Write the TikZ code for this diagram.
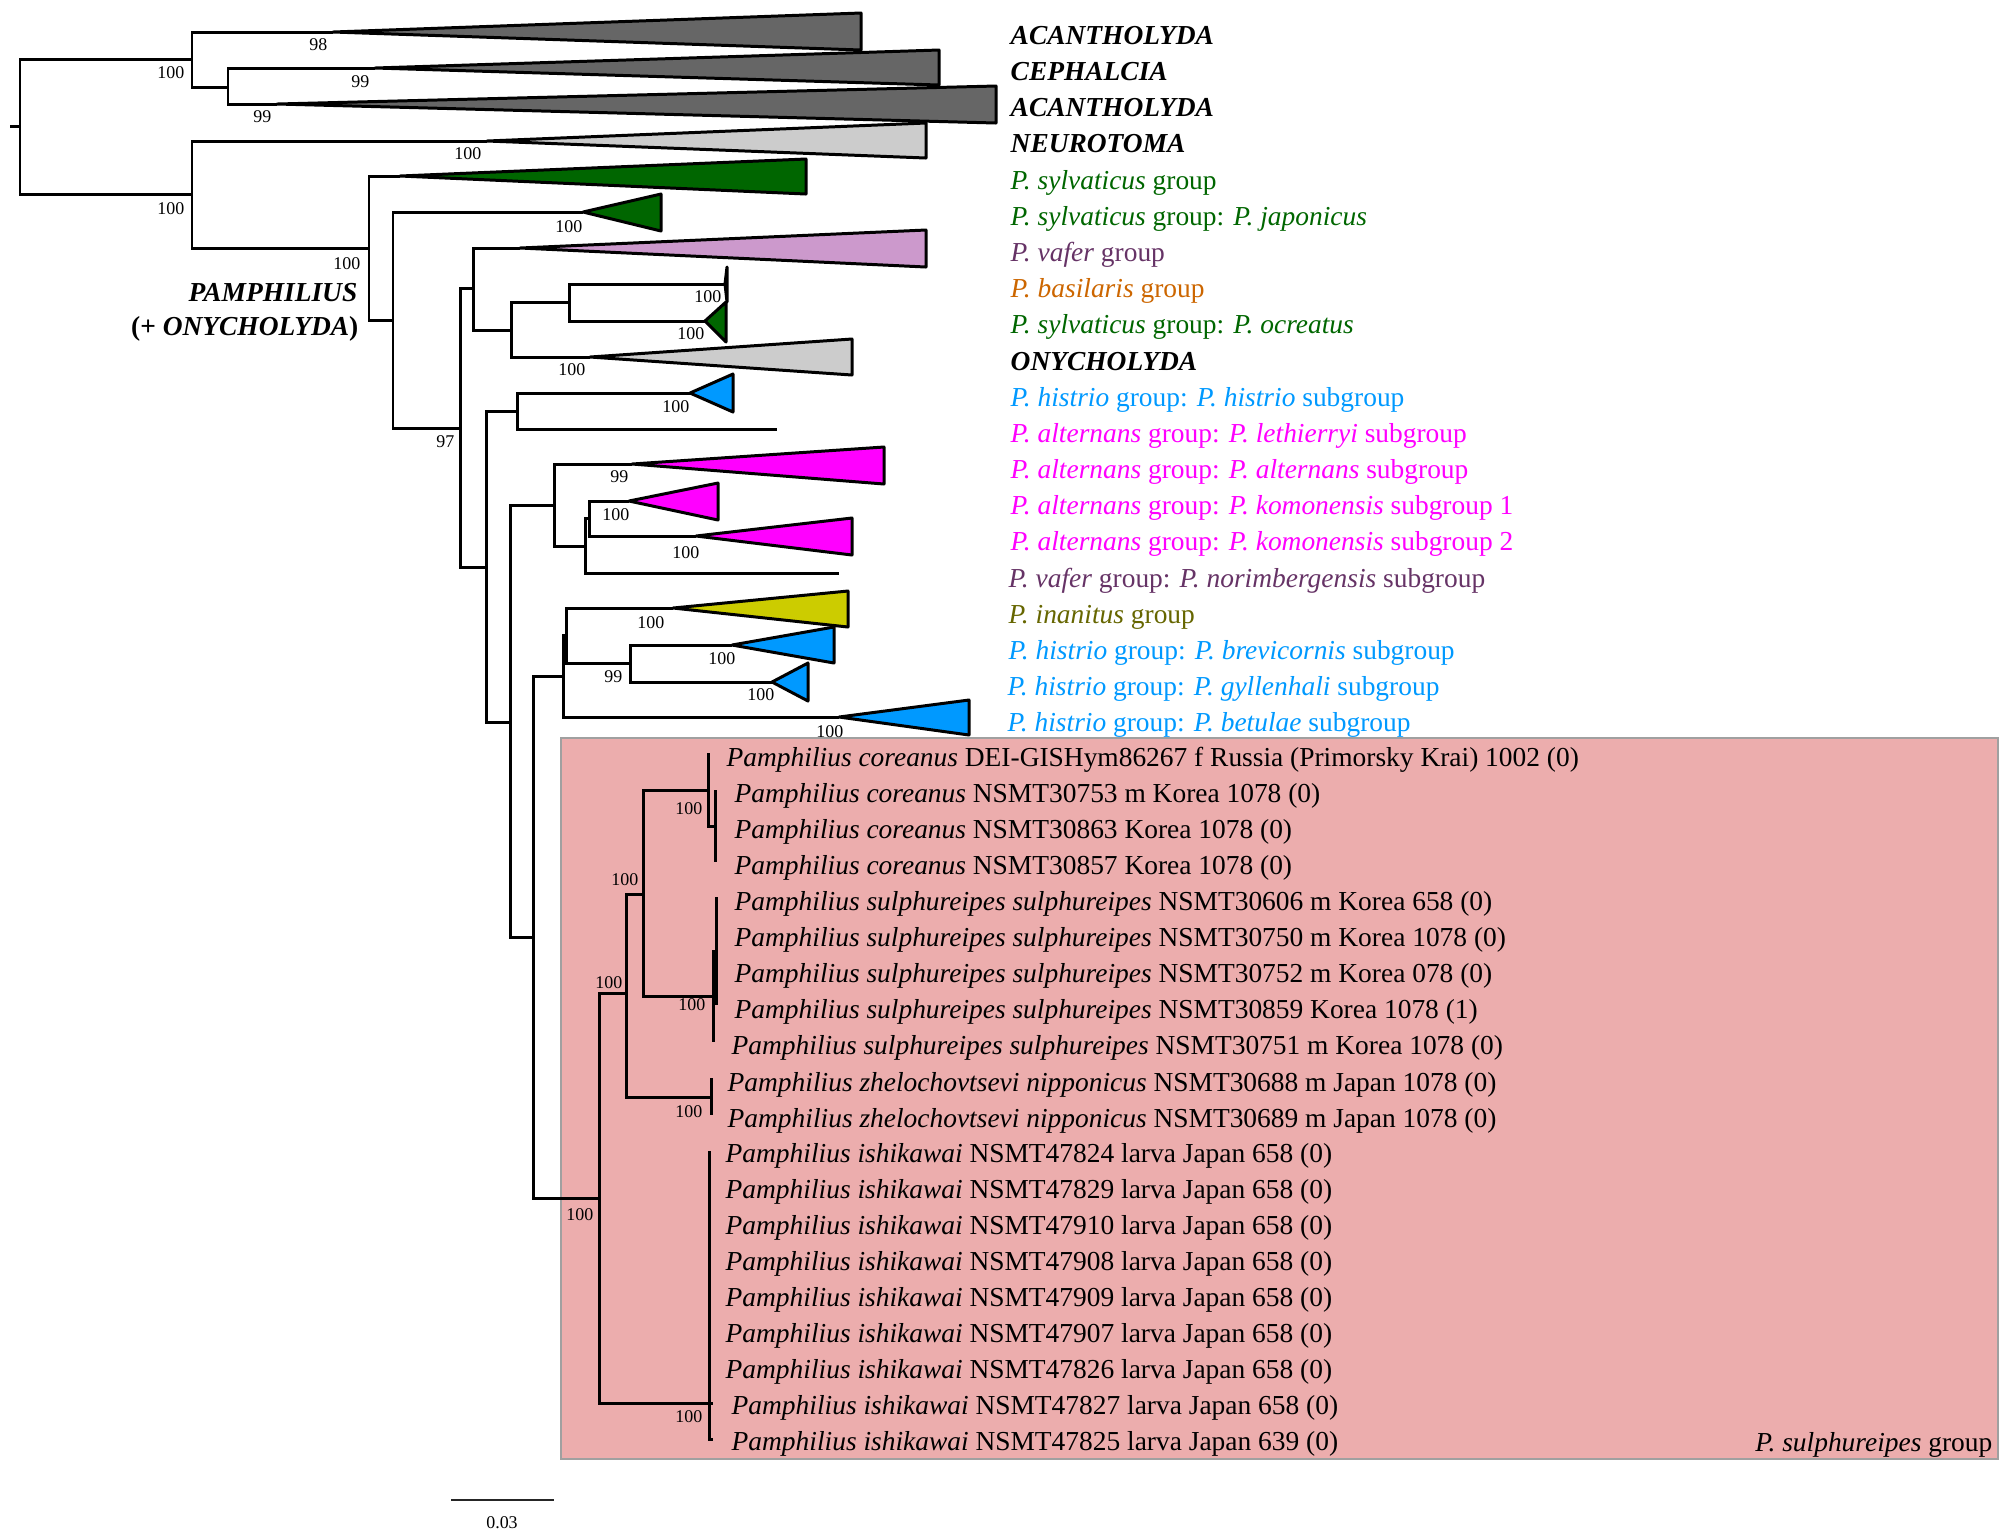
\documentclass[tikz,border=0pt]{standalone}
\usepackage{fontspec}
\setmainfont{Liberation Serif}
\definecolor{cladedark}{HTML}{666666}
\definecolor{cladelight}{HTML}{CCCCCC}
\definecolor{sylvgreen}{HTML}{006600}
\definecolor{vaferlilac}{HTML}{CC99CC}
\definecolor{vaferpurple}{HTML}{663366}
\definecolor{basilorange}{HTML}{CC6600}
\definecolor{histrioblue}{HTML}{0099FF}
\definecolor{altmagenta}{HTML}{FF00FF}
\definecolor{inanyellow}{HTML}{CCCC00}
\definecolor{inanolive}{HTML}{666600}
\definecolor{boxpink}{HTML}{ECADAD}
\definecolor{boxgrey}{HTML}{A0A0A0}
\newcommand{\lbfont}{\fontsize{7.8}{9}\selectfont}
\begin{document}
\begin{tikzpicture}[x=0.01cm,y=-0.01cm,
  branch/.style={line width=0.85pt},
  clade/.style={draw=black,line width=0.85pt,line join=round},
  supp/.style={anchor=east,inner sep=0pt,font=\fontsize{5.1}{6}\selectfont},
  grp/.style={anchor=base west,inner sep=0pt,font=\lbfont},
  tiplab/.style={anchor=base west,inner sep=0pt,font=\lbfont}]
  \useasboundingbox (0,0) rectangle (2012,1538);
  % sulphureipes group box
  \draw[draw=boxgrey,fill=boxpink,line width=0.7pt] (561,738) rectangle (1998,1459);
  \node[anchor=base east,inner sep=0pt,font=\lbfont] (boxlab) at (1993,1451) {\textit{P. sulphureipes} group};
  % internal nodes
  \coordinate (stub) at (10,126); \coordinate (root) at (20,126);
  \coordinate (nA) at (192,59);   \coordinate (nB) at (228,87);
  \coordinate (nC) at (192,194);  \coordinate (nD) at (369,248);
  \coordinate (nE) at (393,320);  \coordinate (nF) at (460,428);
  \coordinate (nG) at (473,288);  \coordinate (nI) at (511,330);
  \coordinate (nJ) at (569,302);  \coordinate (nH) at (486,567);
  \coordinate (nK) at (517,411);  \coordinate (nL) at (510,722);
  \coordinate (nM) at (554,505);  \coordinate (nO) at (585,546);
  \coordinate (nP) at (589,518);  \coordinate (nN) at (533,937);
  \coordinate (nQ) at (563,676);  \coordinate (nS) at (566,635);
  \coordinate (nT) at (630,663);  \coordinate (nR) at (599,1198);
  \coordinate (nU) at (626,993);  \coordinate (nW) at (643,894);
  \coordinate (nV) at (709,1403); \coordinate (zhel) at (711,1097);
  \coordinate (cor1) at (708,790); \coordinate (cor2) at (715,826);
  \coordinate (sul1) at (713,996); \coordinate (sul2) at (716,951);
  % collapsed clades and single tips
  \coordinate (acan1) at (333,32);  \coordinate (cepha) at (375,68);
  \coordinate (acan2) at (277,104); \coordinate (neuro) at (487,141);
  \coordinate (sylv) at (400,176);  \coordinate (japo) at (583,212);
  \coordinate (vafer) at (520,248); \coordinate (basil) at (725,284);
  \coordinate (ocrea) at (705,321); \coordinate (onycho) at (590,357);
  \coordinate (histr) at (690,393); \coordinate (leth) at (777,429);
  \coordinate (alter) at (632,464); \coordinate (komo1) at (629,501);
  \coordinate (komo2) at (696,536); \coordinate (nori) at (839,573);
  \coordinate (inan) at (673,608);  \coordinate (brev) at (732,645);
  \coordinate (gyll) at (772,682);  \coordinate (betul) at (839,717);
  \coordinate (t0) at (708,753);  \coordinate (t1) at (715,790);
  \coordinate (t3) at (715,862);  \coordinate (t4) at (716,897);
  \coordinate (t7) at (716,1005); \coordinate (t8) at (713,1042);
  \coordinate (t9) at (711,1078); \coordinate (t10) at (711,1115);
  \coordinate (t11) at (709,1151); \coordinate (t18) at (713,1403);
  \coordinate (t19) at (713,1439);
  % branches
  \draw[branch] (stub) -- (root);
  \foreach \p/\c in {root/nA,root/nC,nA/acan1,nA/nB,nB/cepha,nB/acan2,
    nC/neuro,nC/nD,nD/sylv,nD/nE,nE/japo,nE/nF,nF/nG,nF/nH,
    nG/vafer,nG/nI,nI/nJ,nI/onycho,nJ/basil,nJ/ocrea,
    nH/nK,nH/nL,nK/histr,nK/leth,nL/nM,nL/nN,nM/alter,nM/nO,
    nO/nP,nO/nori,nP/komo1,nP/komo2,nN/nQ,nN/nR,nQ/nS,nQ/betul,
    nS/inan,nS/nT,nT/brev,nT/gyll,nR/nU,nR/nV,nU/nW,nU/zhel,
    nW/cor1,nW/sul1,cor1/t0,cor1/cor2,cor2/t1,cor2/t3,
    sul1/sul2,sul1/t8,sul2/t4,sul2/t7,zhel/t9,zhel/t10,
    nV/t11,nV/t18,nV/t19}
    \draw[branch] (\p) |- (\c);
  % triangles
  \foreach \a/\xr/\yt/\yb/\c in {acan1/861/13/50/cladedark,cepha/939/50/85/cladedark,
    acan2/996/86/123/cladedark,neuro/926/123/158/cladelight,
    sylv/806/159/194/sylvgreen,japo/661/194/231/sylvgreen,
    vafer/926/230/267/vaferlilac,basil/727/267/302/basilorange,
    ocrea/726/302/342/sylvgreen,onycho/852/339/375/cladelight,
    histr/733/374/412/histrioblue,alter/884/447/484/altmagenta,
    komo1/718/483/520/altmagenta,komo2/852/518/555/altmagenta,
    inan/848/591/627/inanyellow,brev/834/627/663/histrioblue,
    gyll/808/663/701/histrioblue,betul/969/700/735/histrioblue}
    \filldraw[clade,fill=\c] (\a) -- (\xr,\yt) -- (\xr,\yb) -- cycle;
  % support values
  \foreach \x/\y/\v in {328/45/98,185/73/100,370/82/99,272/117/99,185/209/100,
    482/154/100,361/264/100,583/227/100,722/297/100,705/334/100,586/370/100,
    455/442/97,690/407/100,629/477/99,630/515/100,700/553/100,665/623/100,
    623/677/99,736/659/100,775/695/100,844/732/100,623/983/100,639/880/100,
    703/809/100,706/1005/100,703/1112/100,594/1215/100,703/1417/100}
    \node[supp] (s-\x-\y) at (\x,\y) {\v};
  \node[anchor=base east,inner sep=0pt,font=\lbfont] (pamph) at (358,301) {\textbf{\textit{PAMPHILIUS}}};
  \node[anchor=base east,inner sep=0pt,font=\lbfont] (pamphb) at (359,335) {\textbf{(+ \textit{ONYCHOLYDA})}};
  % clade labels
  \node[grp] (lab0) at (1010,44) {\textbf{\textit{ACANTHOLYDA}}};
  \node[grp] (lab1) at (1010,80) {\textbf{\textit{CEPHALCIA}}};
  \node[grp] (lab2) at (1010,116) {\textbf{\textit{ACANTHOLYDA}}};
  \node[grp] (lab3) at (1010,152) {\textbf{\textit{NEUROTOMA}}};
  \node[grp,text=sylvgreen] (lab4) at (1010,189) {\textit{P. sylvaticus} group};
  \node[grp,text=sylvgreen] (lab5) at (1010,225) {\textit{P. sylvaticus} group: \textit{P. japonicus}};
  \node[grp,text=vaferpurple] (lab6) at (1010,261) {\textit{P. vafer} group};
  \node[grp,text=basilorange] (lab7) at (1010,297) {\textit{P. basilaris} group};
  \node[grp,text=sylvgreen] (lab8) at (1010,333) {\textit{P. sylvaticus} group: \textit{P. ocreatus}};
  \node[grp] (lab9) at (1010,370) {\textbf{\textit{ONYCHOLYDA}}};
  \node[grp,text=histrioblue] (lab10) at (1010,406) {\textit{P. histrio} group: \textit{P. histrio} subgroup};
  \node[grp,text=altmagenta] (lab11) at (1010,442) {\textit{P. alternans} group: \textit{P. lethierryi} subgroup};
  \node[grp,text=altmagenta] (lab12) at (1010,478) {\textit{P. alternans} group: \textit{P. alternans} subgroup};
  \node[grp,text=altmagenta] (lab13) at (1010,514) {\textit{P. alternans} group: \textit{P. komonensis} subgroup 1};
  \node[grp,text=altmagenta] (lab14) at (1010,550) {\textit{P. alternans} group: \textit{P. komonensis} subgroup 2};
  \node[grp,text=vaferpurple] (lab15) at (1008,587) {\textit{P. vafer} group: \textit{P. norimbergensis} subgroup};
  \node[grp,text=inanolive] (lab16) at (1008,623) {\textit{P. inanitus} group};
  \node[grp,text=histrioblue] (lab17) at (1008,659) {\textit{P. histrio} group: \textit{P. brevicornis} subgroup};
  \node[grp,text=histrioblue] (lab18) at (1007,695) {\textit{P. histrio} group: \textit{P. gyllenhali} subgroup};
  \node[grp,text=histrioblue] (lab19) at (1007,731) {\textit{P. histrio} group: \textit{P. betulae} subgroup};
  % tip labels
  \node[tiplab] (tip0) at (726,766) {\textit{Pamphilius coreanus} DEI-GISHym86267 f Russia (Primorsky Krai) 1002 (0)};
  \node[tiplab] (tip1) at (734,802) {\textit{Pamphilius coreanus} NSMT30753 m Korea 1078 (0)};
  \node[tiplab] (tip2) at (734,838) {\textit{Pamphilius coreanus} NSMT30863 Korea 1078 (0)};
  \node[tiplab] (tip3) at (734,874) {\textit{Pamphilius coreanus} NSMT30857 Korea 1078 (0)};
  \node[tiplab] (tip4) at (734,910) {\textit{Pamphilius sulphureipes sulphureipes} NSMT30606 m Korea 658 (0)};
  \node[tiplab] (tip5) at (734,946) {\textit{Pamphilius sulphureipes sulphureipes} NSMT30750 m Korea 1078 (0)};
  \node[tiplab] (tip6) at (734,982) {\textit{Pamphilius sulphureipes sulphureipes} NSMT30752 m Korea 078 (0)};
  \node[tiplab] (tip7) at (734,1018) {\textit{Pamphilius sulphureipes sulphureipes} NSMT30859 Korea 1078 (1)};
  \node[tiplab] (tip8) at (731,1054) {\textit{Pamphilius sulphureipes sulphureipes} NSMT30751 m Korea 1078 (0)};
  \node[tiplab] (tip9) at (727,1091) {\textit{Pamphilius zhelochovtsevi nipponicus} NSMT30688 m Japan 1078 (0)};
  \node[tiplab] (tip10) at (727,1127) {\textit{Pamphilius zhelochovtsevi nipponicus} NSMT30689 m Japan 1078 (0)};
  \foreach \i/\num/\bp/\x in {11/47824/658/725,12/47829/658/725,13/47910/658/725,
    14/47908/658/725,15/47909/658/725,16/47907/658/725,17/47826/658/725,
    18/47827/658/731,19/47825/639/731}
    \node[tiplab] (tip\i) at (\x,{766+36.05*\i}) {\textit{Pamphilius ishikawai} NSMT\num{} larva Japan \bp{} (0)};
  % scale bar
  \coordinate (sb0) at (451,1500); \coordinate (sb1) at (554,1500);
  \draw[line width=0.6pt,black!85] (sb0) -- (sb1);
  \node[inner sep=0pt,font=\fontsize{5.1}{6}\selectfont] (sblab) at (502,1523) {0.03};
\end{tikzpicture}
\end{document}
